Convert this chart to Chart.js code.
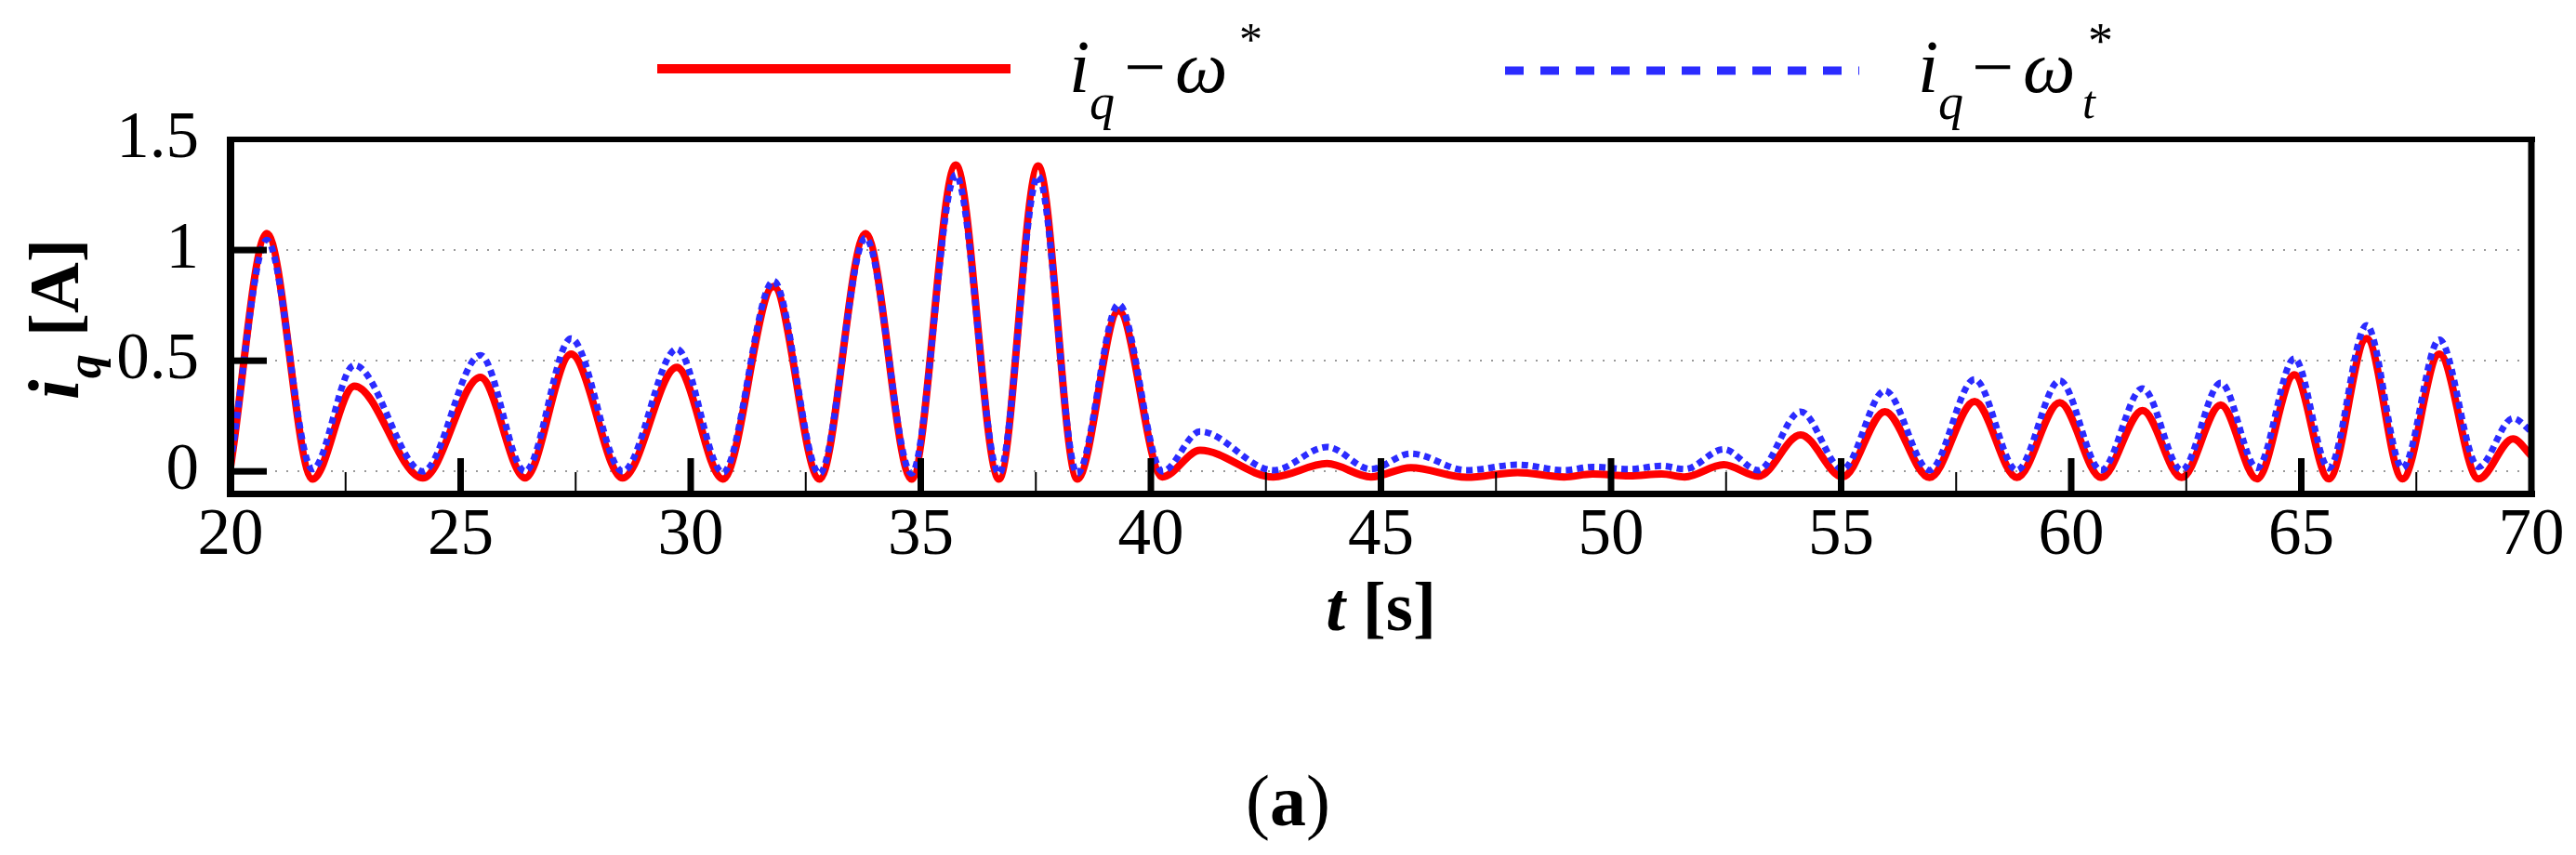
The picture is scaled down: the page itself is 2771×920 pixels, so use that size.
<!DOCTYPE html>
<html>
<head>
<meta charset="utf-8">
<script src="https://cdn.jsdelivr.net/npm/chart.js@4.4.1/dist/chart.umd.min.js"></script>
<style>
  html, body { margin: 0; padding: 0; background: #fff; }
  #wrap { width: 2771px; height: 920px; }
</style>
</head>
<body>
<div id="wrap"><canvas id="iqChart" width="2771" height="920"></canvas></div>
<script>
// ── Data ──
const timeS = [20, 20.79, 21.78, 22.69, 24.18, 25.43, 26.4, 27.4, 28.52, 29.7,
  30.7, 31.8, 32.8, 33.8, 34.8, 35.76, 36.7, 37.55, 38.4, 39.3,
  40.25, 41.07, 42.66, 43.83, 44.78, 45.65, 46.86, 47.97, 48.98, 49.6,
  50.4, 51.1, 51.6, 52.45, 53.2, 54.12, 55.03, 55.95, 56.92, 57.9,
  58.82, 59.75, 60.65, 61.55, 62.4, 63.25, 64.04, 64.85, 65.6, 66.42,
  67.2, 68.0, 68.85, 69.6, 70];

// i_q − ω*  (red, solid)
const iqOmegaRef = [0.02, 1.075, -0.035, 0.385, -0.03, 0.425, -0.03, 0.53, -0.03, 0.47,
  -0.035, 0.835, -0.035, 1.075, -0.035, 1.385, -0.035, 1.38, -0.035, 0.725,
  -0.025, 0.095, -0.025, 0.035, -0.025, 0.017, -0.027, -0.005, -0.025, -0.012,
  -0.02, -0.012, -0.025, 0.03, -0.022, 0.165, -0.025, 0.27, -0.028, 0.316,
  -0.028, 0.31, -0.028, 0.275, -0.028, 0.30, -0.034, 0.436, -0.034, 0.60,
  -0.034, 0.53, -0.034, 0.147, 0.07];

// i_q − ω_t*  (blue, dashed)
const iqOmegaT = [0.04, 1.045, 0.01, 0.48, 0.0, 0.525, 0.0, 0.60, 0.0, 0.553,
  -0.005, 0.86, -0.01, 1.055, -0.01, 1.34, -0.01, 1.335, -0.01, 0.755,
  0.0, 0.18, 0.005, 0.11, 0.01, 0.08, 0.005, 0.03, 0.005, 0.02,
  0.01, 0.025, 0.01, 0.10, 0.005, 0.27, 0.01, 0.365, 0.005, 0.416,
  0.005, 0.41, 0.005, 0.375, 0.005, 0.40, 0.015, 0.51, 0.015, 0.66,
  0.015, 0.595, 0.02, 0.24, 0.18];

const xTicks = [20, 25, 30, 35, 40, 45, 50, 55, 60, 65, 70];
const xMinorTicks = [22.5, 27.5, 32.5, 37.5, 42.5, 47.5, 52.5, 57.5, 62.5, 67.5];
const yTicks = [0, 0.5, 1, 1.5];
const yGridLines = [0, 0.5, 1];

const FONT = '"Liberation Serif", "Times New Roman", serif';
const RED = '#ff0000';
const BLUE = '#2b2bff';

function txt(ctx, s, x, y, font, align) {
  ctx.font = font;
  ctx.textAlign = align || 'left';
  ctx.fillText(s, x, y);
  return ctx.measureText(s).width;
}

// ── Frame, ticks, grid, titles, legend ──
const figureDecor = {
  id: 'figureDecor',
  beforeDatasetsDraw(chart) {
    const { ctx, chartArea: a, scales: { y } } = chart;
    ctx.save();
    ctx.strokeStyle = '#9a9a9a';
    ctx.lineWidth = 2;
    ctx.setLineDash([2, 10]);
    yGridLines.forEach(v => {
      const py = Math.round(y.getPixelForValue(v));
      ctx.beginPath();
      ctx.moveTo(a.left, py);
      ctx.lineTo(a.right, py);
      ctx.stroke();
    });
    ctx.restore();
  },
  afterDatasetsDraw(chart) {
    const { ctx, chartArea: a, scales: { x, y } } = chart;
    ctx.save();
    ctx.fillStyle = '#000';

    // frame
    ctx.fillRect(a.left - 4, a.top - 3, a.right - a.left + 8, 6);
    ctx.fillRect(a.left - 4, a.bottom - 3, a.right - a.left + 8, 7);
    ctx.fillRect(a.left - 4, a.top - 3, 8, a.bottom - a.top + 7);
    ctx.fillRect(a.right - 3.5, a.top - 3, 7, a.bottom - a.top + 7);

    // x ticks
    xTicks.slice(1, -1).forEach(v => {
      const px = x.getPixelForValue(v);
      ctx.fillRect(px - 3.5, a.bottom - 38, 7, 38);
    });
    xMinorTicks.forEach(v => {
      const px = x.getPixelForValue(v);
      ctx.fillRect(px - 1, a.bottom - 23, 2, 23);
    });
    // y ticks
    yGridLines.forEach(v => {
      const py = y.getPixelForValue(v);
      ctx.fillRect(a.left, py - 3.5, 39, 7);
    });

    ctx.textBaseline = 'alphabetic';

    // y title: i_q [A]
    ctx.save();
    ctx.translate(84, 430);
    ctx.rotate(-Math.PI / 2);
    let w = txt(ctx, 'i', 0, 0, 'italic bold 78px ' + FONT);
    w += txt(ctx, 'q', w + 1, 24, 'italic bold 52px ' + FONT) + 1;
    txt(ctx, ' [A]', w, 0, 'bold 76px ' + FONT);
    ctx.restore();

    // x title: t [s]
    ctx.font = 'italic bold 75px ' + FONT;
    const wt = ctx.measureText('t').width;
    ctx.font = 'bold 75px ' + FONT;
    const ws = ctx.measureText(' [s]').width;
    let sx = (a.left + a.right) / 2 - (wt + ws) / 2;
    txt(ctx, 't', sx, 678, 'italic bold 75px ' + FONT);
    txt(ctx, ' [s]', sx + wt, 678, 'bold 75px ' + FONT);

    // caption (a)
    ctx.font = '78px ' + FONT;
    const wp = ctx.measureText('(').width;
    ctx.font = 'bold 78px ' + FONT;
    const wa = ctx.measureText('a').width;
    let cx = chart.width / 2 - (2 * wp + wa) / 2;
    txt(ctx, '(', cx, 888, '78px ' + FONT);
    txt(ctx, 'a', cx + wp, 888, 'bold 78px ' + FONT);
    txt(ctx, ')', cx + wp + wa, 888, '78px ' + FONT);

    // legend: red solid
    ctx.strokeStyle = RED;
    ctx.lineWidth = 10;
    ctx.beginPath();
    ctx.moveTo(707, 74);
    ctx.lineTo(1087, 74);
    ctx.stroke();
    txt(ctx, 'i', 1150, 99, 'italic 80px ' + FONT);
    txt(ctx, 'q', 1172, 128, 'italic 54px ' + FONT);
    txt(ctx, '\u2212', 1204, 99, 'italic 80px ' + FONT);
    txt(ctx, '\u03c9', 1264, 99, 'italic 80px ' + FONT);
    txt(ctx, '*', 1333, 59, '50px ' + FONT);

    // legend: blue dashed
    ctx.strokeStyle = BLUE;
    ctx.lineWidth = 9;
    ctx.setLineDash([20, 18]);
    ctx.beginPath();
    ctx.moveTo(1619, 76);
    ctx.lineTo(2000, 76);
    ctx.stroke();
    ctx.setLineDash([]);
    txt(ctx, 'i', 2063, 99, 'italic 80px ' + FONT);
    txt(ctx, 'q', 2085, 128, 'italic 54px ' + FONT);
    txt(ctx, '\u2212', 2116, 99, 'italic 80px ' + FONT);
    txt(ctx, '\u03c9', 2176, 99, 'italic 80px ' + FONT);
    txt(ctx, 't', 2240, 127, 'italic 50px ' + FONT);
    txt(ctx, '*', 2246, 62, '54px ' + FONT);

    ctx.restore();
  }
};

// ── Chart ──
const ctx = document.getElementById('iqChart').getContext('2d');
new Chart(ctx, {
  type: 'line',
  data: {
    datasets: [{
      label: 'i_q \u2212 \u03c9*',
      data: timeS.map((t, i) => ({ x: t, y: iqOmegaRef[i] })),
      borderColor: RED,
      borderWidth: 8,
      pointRadius: 0,
      cubicInterpolationMode: 'monotone',
      fill: false,
      order: 2
    }, {
      label: 'i_q \u2212 \u03c9_t*',
      data: timeS.map((t, i) => ({ x: t, y: iqOmegaT[i] })),
      borderColor: BLUE,
      borderWidth: 7,
      borderDash: [7, 5],
      pointRadius: 0,
      cubicInterpolationMode: 'monotone',
      fill: false,
      order: 1
    }]
  },
  options: {
    responsive: false,
    animation: false,
    devicePixelRatio: 1,
    layout: { padding: { left: 0, right: 48, top: 150, bottom: 0 } },
    plugins: {
      legend: { display: false },
      tooltip: { enabled: false }
    },
    scales: {
      x: {
        type: 'linear',
        min: 20,
        max: 70,
        afterBuildTicks: s => { s.ticks = xTicks.map(v => ({ value: v })); },
        afterFit: s => { s.height = 389; },
        grid: { display: false, drawTicks: false },
        border: { display: false },
        ticks: { font: { family: FONT, size: 71 }, color: '#000', padding: 4, maxRotation: 0, autoSkip: false }
      },
      y: {
        type: 'linear',
        min: -0.1,
        max: 1.5,
        afterBuildTicks: s => { s.ticks = yTicks.map(v => ({ value: v })); },
        afterFit: s => { s.width = 248; },
        grid: { display: false, drawTicks: false },
        border: { display: false },
        ticks: { font: { family: FONT, size: 71 }, color: '#000', padding: 34, callback: v => String(v) }
      }
    }
  },
  plugins: [figureDecor]
});
</script>
</body>
</html>
